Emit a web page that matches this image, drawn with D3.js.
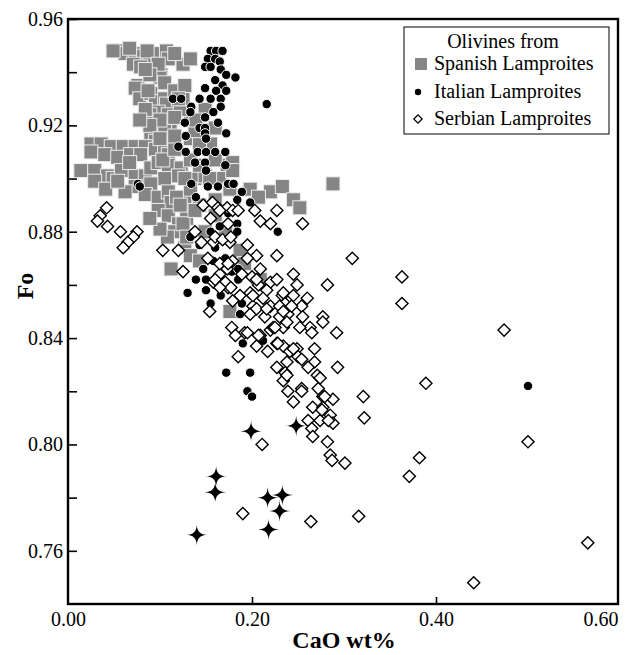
<!DOCTYPE html>
<html>
<head>
<meta charset="utf-8">
<script src="https://cdn.jsdelivr.net/npm/d3@7"></script>
<style>
    body { margin: 0; background: #fff; }
    svg { display: block; }
    svg text { font-family: "Liberation Serif", "Times New Roman", serif; }
</style>
</head>
<body>
<svg id="chart" width="631" height="655"></svg>
<script>

// [CaO wt%, Fo]
var spanish = [
    [0.054,0.948],[0.062,0.947],[0.073,0.947],[0.082,0.946],[0.089,0.946],[0.098,0.947],[0.107,0.948],[0.109,0.945],
    [0.125,0.943],[0.071,0.943],[0.079,0.942],[0.090,0.940],[0.101,0.939],[0.100,0.938],[0.105,0.936],[0.076,0.935],
    [0.073,0.934],[0.078,0.930],[0.090,0.932],[0.095,0.929],[0.105,0.930],[0.107,0.928],[0.098,0.925],[0.109,0.924],
    [0.111,0.921],[0.098,0.919],[0.105,0.918],[0.090,0.916],[0.095,0.914],[0.025,0.913],[0.036,0.913],[0.047,0.912],
    [0.060,0.912],[0.073,0.912],[0.084,0.912],[0.025,0.910],[0.040,0.909],[0.054,0.908],[0.068,0.909],[0.079,0.909],
    [0.095,0.911],[0.105,0.910],[0.109,0.909],[0.014,0.903],[0.029,0.903],[0.043,0.901],[0.049,0.900],[0.029,0.899],
    [0.041,0.896],[0.058,0.903],[0.073,0.901],[0.084,0.901],[0.090,0.904],[0.098,0.906],[0.109,0.905],[0.123,0.904],
    [0.120,0.901],[0.105,0.900],[0.090,0.898],[0.073,0.897],[0.062,0.895],[0.084,0.894],[0.098,0.893],[0.109,0.895],
    [0.112,0.891],[0.127,0.891],[0.138,0.900],[0.155,0.913],[0.174,0.905],[0.098,0.888],[0.109,0.886],[0.120,0.883],
    [0.116,0.880],[0.127,0.874],[0.112,0.866],[0.118,0.893],[0.129,0.885],[0.209,0.862],[0.176,0.850],[0.220,0.895],
    [0.233,0.897],[0.245,0.892],[0.252,0.889],[0.288,0.898],[0.179,0.906],[0.173,0.903],[0.133,0.915],[0.143,0.913],
    [0.160,0.907],[0.149,0.901],[0.165,0.900],[0.133,0.896],[0.143,0.890],[0.160,0.886],[0.171,0.881],[0.187,0.873],
    [0.192,0.868],[0.133,0.922],[0.122,0.926],[0.138,0.918],
    [0.089,0.924],[0.100,0.922],[0.116,0.923],[0.125,0.930],[0.116,0.933],[0.127,0.935],[0.133,0.907],[0.143,0.905],
    [0.154,0.900],[0.160,0.919],[0.149,0.926],[0.139,0.922],[0.179,0.903],[0.176,0.896],[0.198,0.896],[0.207,0.893],
    [0.125,0.883],[0.108,0.878],[0.129,0.878],[0.100,0.881],[0.089,0.885],[0.133,0.871],[0.143,0.869],[0.149,0.880],
    [0.138,0.888],[0.122,0.890],[0.160,0.892],[0.103,0.907],[0.116,0.911],[0.127,0.900],[0.067,0.906],[0.054,0.899],
    [0.049,0.948],[0.067,0.949],[0.086,0.948],[0.116,0.947],[0.133,0.945],[0.098,0.943],[0.089,0.939],[0.084,0.941],
    [0.084,0.926],[0.089,0.920],[0.078,0.922],[0.100,0.915],[0.116,0.916],[0.120,0.930],[0.087,0.933]
];

var italian = [
    [0.155,0.948],[0.161,0.948],[0.168,0.948],[0.152,0.945],[0.160,0.945],[0.165,0.944],[0.149,0.942],[0.155,0.942],
    [0.166,0.941],[0.172,0.939],[0.182,0.938],[0.160,0.937],[0.168,0.935],[0.149,0.934],[0.161,0.933],[0.114,0.930],
    [0.123,0.930],[0.143,0.930],[0.155,0.930],[0.166,0.930],[0.134,0.927],[0.166,0.927],[0.133,0.925],[0.149,0.923],
    [0.158,0.925],[0.127,0.921],[0.163,0.921],[0.143,0.919],[0.149,0.919],[0.149,0.917],[0.172,0.917],[0.128,0.916],
    [0.150,0.915],[0.120,0.912],[0.128,0.910],[0.141,0.910],[0.150,0.910],[0.160,0.910],[0.171,0.910],[0.138,0.906],
    [0.149,0.906],[0.171,0.905],[0.150,0.903],[0.076,0.898],[0.078,0.897],[0.134,0.898],[0.152,0.897],[0.163,0.897],
    [0.174,0.898],[0.139,0.893],[0.216,0.928],[0.500,0.822],[0.174,0.887],[0.155,0.880],[0.165,0.882],[0.143,0.875],
    [0.133,0.878],[0.171,0.870],[0.160,0.874],[0.139,0.862],[0.150,0.862],[0.147,0.866],[0.130,0.857],[0.150,0.858],
    [0.155,0.853],[0.166,0.856],[0.184,0.892],[0.198,0.891],[0.184,0.883],[0.184,0.880],[0.158,0.869],[0.178,0.865],
    [0.185,0.866],[0.185,0.862],[0.189,0.853],[0.187,0.849],[0.228,0.880],[0.190,0.838],[0.212,0.839],[0.172,0.827],
    [0.198,0.827],[0.195,0.820],[0.200,0.818],[0.189,0.895],[0.180,0.898],[0.172,0.933]
];

var serbian = [
    [0.042,0.889],[0.035,0.886],[0.032,0.884],[0.043,0.882],[0.057,0.880],[0.075,0.880],[0.071,0.878],[0.065,0.876],
    [0.060,0.874],[0.103,0.873],[0.120,0.873],[0.125,0.865],[0.147,0.890],[0.157,0.891],[0.163,0.889],[0.173,0.889],
    [0.179,0.888],[0.185,0.888],[0.203,0.888],[0.227,0.888],[0.209,0.884],[0.220,0.883],[0.255,0.883],[0.138,0.880],
    [0.158,0.876],[0.176,0.876],[0.195,0.875],[0.205,0.871],[0.227,0.871],[0.195,0.870],[0.179,0.869],[0.173,0.866],
    [0.165,0.864],[0.158,0.861],[0.174,0.859],[0.200,0.863],[0.209,0.866],[0.189,0.864],[0.207,0.860],[0.220,0.861],
    [0.227,0.862],[0.245,0.864],[0.249,0.860],[0.282,0.860],[0.216,0.858],[0.233,0.856],[0.245,0.856],[0.260,0.855],
    [0.198,0.857],[0.187,0.856],[0.179,0.854],[0.212,0.855],[0.220,0.852],[0.236,0.853],[0.254,0.852],[0.201,0.852],
    [0.154,0.850],[0.198,0.849],[0.214,0.848],[0.230,0.848],[0.239,0.849],[0.255,0.848],[0.277,0.848],[0.178,0.844],
    [0.192,0.842],[0.209,0.841],[0.220,0.843],[0.234,0.844],[0.238,0.846],[0.263,0.844],[0.292,0.842],[0.207,0.841],
    [0.223,0.844],[0.252,0.844],[0.265,0.842],[0.277,0.846],[0.185,0.833],[0.217,0.835],[0.227,0.838],[0.234,0.837],
    [0.241,0.835],[0.249,0.836],[0.250,0.833],[0.227,0.829],[0.238,0.831],[0.236,0.827],[0.234,0.824],[0.254,0.832],
    [0.268,0.836],[0.268,0.831],[0.261,0.829],[0.271,0.826],[0.293,0.829],[0.239,0.820],[0.245,0.816],[0.254,0.821],
    [0.254,0.820],[0.272,0.821],[0.277,0.818],[0.288,0.817],[0.266,0.814],[0.277,0.814],[0.261,0.809],[0.274,0.809],
    [0.285,0.811],[0.288,0.808],[0.265,0.806],[0.266,0.803],[0.282,0.801],[0.285,0.796],[0.287,0.794],[0.301,0.793],
    [0.211,0.800],[0.274,0.825],[0.283,0.809],[0.316,0.773],[0.321,0.818],[0.322,0.810],[0.389,0.823],[0.382,0.795],
    [0.371,0.788],[0.500,0.801],[0.565,0.763],[0.441,0.748],[0.474,0.843],[0.309,0.870],[0.363,0.863],[0.363,0.853],
    [0.190,0.774],[0.264,0.771],[0.182,0.841],[0.195,0.842],[0.205,0.862],[0.234,0.857],[0.201,0.856],[0.230,0.852],
    [0.243,0.852],[0.205,0.851],[0.216,0.851],[0.234,0.850],[0.225,0.844],[0.205,0.837],[0.228,0.838],[0.245,0.836],
    [0.238,0.826],[0.279,0.818],[0.276,0.813],[0.145,0.876],[0.155,0.885],[0.165,0.888],[0.174,0.883],[0.160,0.878],
    [0.168,0.877],[0.177,0.878],[0.152,0.870],[0.165,0.868],[0.174,0.868],[0.160,0.862],[0.171,0.861],[0.177,0.859],
    [0.165,0.859]
];

// black four-pointed stars (not in the legend)
var stars = [
    [0.199,0.805],[0.248,0.807],[0.161,0.788],[0.160,0.782],[0.140,0.766],
    [0.217,0.780],[0.233,0.781],[0.230,0.775],[0.218,0.768]
];

var xTicks = [0.00, 0.20, 0.40, 0.60];
var yTicks = [0.76, 0.80, 0.84, 0.88, 0.92, 0.96];
var legendTitle = 'Olivines from';
var legendNames = ['Spanish Lamproites', 'Italian Lamproites', 'Serbian Lamproites'];

window.onload = function () {

    var serif = '"Liberation Serif", "Times New Roman", serif';
    var svg = d3.select('#chart');
    var left = 68, right = 618, top = 19, bottom = 604;

    var x = d3.scaleLinear().domain([0, 0.6]).range([left, 620]);
    var y = d3.scaleLinear().domain([0.74, 0.96]).range([bottom, top]);

    // 4 point star with concave sides, size = outer radius squared
    var star4 = {
        draw: function (context, size) {
            var R = Math.sqrt(size);
            context.moveTo(0, -R);
            context.quadraticCurveTo(0, 0, R, 0);
            context.quadraticCurveTo(0, 0, 0, R);
            context.quadraticCurveTo(0, 0, -R, 0);
            context.quadraticCurveTo(0, 0, 0, -R);
            context.closePath();
        }
    };

    var plot = svg.append('g');

    // Spanish - grey squares
    plot.append('g')
        .selectAll('rect')
        .data(spanish)
        .enter()
        .append('rect')
        .attr('x', (d) => x(d[0]) - 7)
        .attr('y', (d) => y(d[1]) - 7)
        .attr('width', 14)
        .attr('height', 14)
        .attr('fill', '#858585')
        .attr('stroke', '#ededed')
        .attr('stroke-width', 1);

    // Italian - black dots
    plot.append('g')
        .selectAll('circle')
        .data(italian)
        .enter()
        .append('circle')
        .attr('cx', (d) => x(d[0]))
        .attr('cy', (d) => y(d[1]))
        .attr('r', 4.7)
        .attr('fill', '#000')
        .attr('stroke', '#fff')
        .attr('stroke-width', 1);

    // Serbian - open diamonds
    plot.append('g')
        .selectAll('path')
        .data(serbian)
        .enter()
        .append('path')
        .attr('d', d3.symbol().type(d3.symbolSquare).size(74))
        .attr('transform', (d) => 'translate(' + x(d[0]) + ',' + y(d[1]) + ') rotate(45)')
        .attr('fill', '#fff')
        .attr('stroke', '#000')
        .attr('stroke-width', 1.4);

    plot.append('g')
        .selectAll('path')
        .data(stars)
        .enter()
        .append('path')
        .attr('d', d3.symbol().type(star4).size(120))
        .attr('transform', (d) => 'translate(' + x(d[0]) + ',' + y(d[1]) + ')')
        .attr('fill', '#000');

    // frame
    svg.append('rect')
        .attr('x', left).attr('y', top)
        .attr('width', right - left).attr('height', bottom - top)
        .attr('fill', 'none')
        .attr('stroke', '#000')
        .attr('stroke-width', 2.4);

    // y axis: minor ticks every 0.02, labels every 0.04
    var yAxis = d3.axisLeft(y)
        .tickValues(d3.range(0.76, 0.961, 0.02))
        .tickSize(-9)
        .tickPadding(5)
        .tickFormat((d) => yTicks.some((t) => Math.abs(t - d) < 1e-6) ? d3.format('.2f')(d) : '');
    var gy = svg.append('g')
        .attr('transform', 'translate(' + left + ',0)')
        .call(yAxis);
    gy.select('.domain').remove();
    gy.selectAll('line').attr('stroke-width', 1.6);
    gy.selectAll('text')
        .style('font-family', serif)
        .style('font-size', '20px')
        .attr('fill', '#000');

    var xAxis = d3.axisBottom(x)
        .tickValues(xTicks)
        .tickSize(-7)
        .tickPadding(8)
        .tickFormat(d3.format('.2f'));
    var gx = svg.append('g')
        .attr('transform', 'translate(0,' + bottom + ')')
        .call(xAxis);
    gx.select('.domain').remove();
    gx.selectAll('line')
        .attr('stroke-width', 1.6)
        .attr('opacity', (d) => d > 0 && d < 0.6 ? 1 : 0);
    gx.selectAll('text')
        .style('font-family', serif)
        .style('font-size', '20px')
        .attr('fill', '#000');
    // last label is pulled in to end at the frame
    gx.selectAll('.tick')
        .filter((d) => d === 0.6)
        .select('text')
        .attr('text-anchor', 'end')
        .attr('x', right - x(0.6));

    // axis titles
    svg.append('text')
        .attr('x', 344)
        .attr('y', 648)
        .attr('text-anchor', 'middle')
        .style('font-size', '24px')
        .style('font-weight', 'bold')
        .text('CaO wt%');

    svg.append('text')
        .attr('transform', 'translate(33,286) rotate(-90)')
        .attr('text-anchor', 'middle')
        .style('font-size', '24px')
        .style('font-weight', 'bold')
        .text('Fo');

    // legend
    var legend = svg.append('g');
    legend.append('rect')
        .attr('x', 404).attr('y', 27)
        .attr('width', 205).attr('height', 107)
        .attr('fill', '#fff')
        .attr('stroke', '#000')
        .attr('stroke-width', 1);
    legend.append('text')
        .attr('x', 503).attr('y', 48)
        .attr('text-anchor', 'middle')
        .style('font-size', '20px')
        .text(legendTitle);

    var rowY = [70, 98, 125];
    legend.selectAll('text.name')
        .data(legendNames)
        .enter()
        .append('text')
        .attr('class', 'name')
        .attr('x', 434)
        .attr('y', (d, i) => rowY[i])
        .style('font-size', '20px')
        .text((d) => d);

    legend.append('rect')
        .attr('x', 415).attr('y', 58)
        .attr('width', 12).attr('height', 12)
        .attr('fill', '#858585');
    legend.append('circle')
        .attr('cx', 418).attr('cy', 92)
        .attr('r', 3.2)
        .attr('fill', '#000');
    legend.append('path')
        .attr('d', d3.symbol().type(d3.symbolSquare).size(34))
        .attr('transform', 'translate(418,119) rotate(45)')
        .attr('fill', '#fff')
        .attr('stroke', '#000')
        .attr('stroke-width', 1.3);
};

</script>
</body>
</html>
